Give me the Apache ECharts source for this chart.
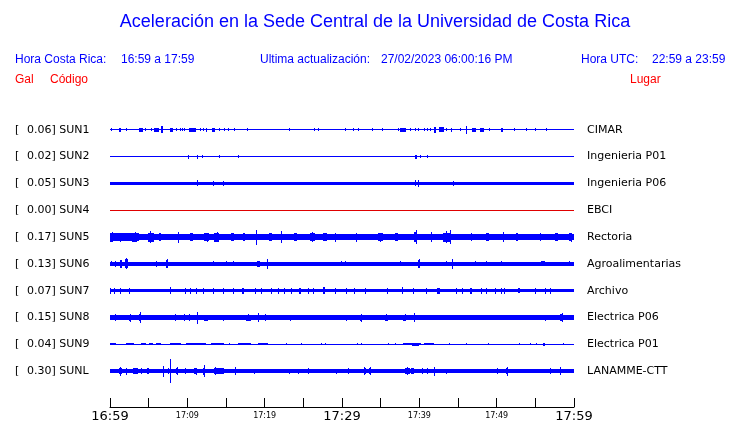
<!DOCTYPE html>
<html>
<head>
<meta charset="utf-8">
<script src="https://cdn.jsdelivr.net/npm/echarts@6/dist/echarts.min.js"></script>
<style>html,body{margin:0;padding:0;background:#fff}#c{width:740px;height:423px}</style>
</head>
<body>
<div id="c"></div>
<script>
// ---- data ----
const codes = ['SUN1','SUN2','SUN3','SUN4','SUN5','SUN6','SUN7','SUN8','SUN9','SUNL'];
const peakGal = [0.06,0.02,0.05,0.00,0.17,0.13,0.07,0.15,0.04,0.30];
const places = ['CIMAR','Ingenieria P01','Ingenieria P06','EBCI','Rectoria','Agroalimentarias','Archivo','Electrica P06','Electrica P01','LANAMME-CTT'];
// minutes after 16:59
const tickLabels = ['16:59','','17:09','','17:19','','17:29','','17:39','','17:49','','17:59'];
const majorLabels = ['16:59','17:29','17:59'];
// background noise half-amplitude of each trace (display units)
const baseAmp = [0.5,0.5,1.6,0.5,3,1.7,1.7,2.2,0.5,1.7];
// bursts: [start, end, halfAmp] or [time, halfAmp]
const sun1 = [[0.1,1.5],[1.2,1.45,2],[2.1,1.5],[3.8,4.3,2],[4.55,1.5],[5.35,1.5],[5.75,6.4,2],[6.6,6.85,3.5],[7.7,8.2,2],[8.55,1.5],[9.0,1.5],[9.3,1.5],[9.55,1.5],[10.2,11.15,2],[11.6,1.5],[12.0,1.5],[12.35,12.55,2],[13.15,13.6,2],[14.15,1.5],[14.8,1.5],[15.25,1.5],[16.0,1.5],[17.75,1.5],[23.2,1.5],[26.35,1.5],[26.95,1.5],[30.45,1.5],[31.4,1.5],[32.05,1.5],[33.85,1.5],[35.15,1.5],[37.2,1.5],[37.55,38.3,2],[38.75,1.5],[39.4,1.5],[39.8,1.5],[40.55,1.5],[40.95,1.5],[41.4,1.5],[41.85,42.1,3],[42.5,43.15,2.5],[43.5,1.5],[44.05,44.25,2],[45.2,1.5],[46.0,4],[46.8,47.35,2],[47.9,48.3,2],[49.0,1.5],[50.5,50.8,2],[52.2,1.5],[53.75,1.5],[54.9,1.5],[56.4,1.5]];
const sun2 = [[10.05,10.2,2],[11.2,11.4,2],[11.9,1.5],[14.1,1.5],[16.55,1.5],[39.45,39.7,2],[40.05,1.5],[40.95,1.5]];
const sun3 = [[11.25,3],[13.3,2.5],[14.6,2.5],[39.5,3],[39.8,3.5],[44.35,2.5]];
const sun4 = [];
const sun5 = [[0.0,3.8,4],[0.0,0.4,4.5],[0.2,5],[1.35,4.5],[2.9,3.55,4.5],[3.2,5],[4.85,5.75,4.5],[5.2,6],[6.3,6.6,4],[8.75,5.5],[10.3,10.7,4],[12.2,12.85,4],[12.5,4.5],[13.5,14.15,4.5],[13.8,5],[15.7,16.0,4],[17.2,17.5,4],[18.9,7.5],[20.6,21.0,4],[22.15,6],[23.8,24.2,4],[25.8,26.45,4],[26.1,5],[27.6,28.0,4],[29.05,4.5],[31.85,4.5],[34.6,35.25,4],[34.9,4.5],[36.8,37.2,4],[39.35,39.75,5],[39.55,7],[41.55,5],[43.0,44.1,4.5],[43.4,6],[44.0,7],[46.7,4],[48.6,49.0,4],[50.8,5],[52.5,52.8,4],[55.55,4],[57.6,57.9,4],[59.4,59.8,4],[59.6,4.5]];
const sun6 = [[0.15,2.5],[0.6,3],[1.35,1.55,4],[1.9,2.3,4.5],[2.1,5.5],[6.0,3],[7.25,7.55,4],[7.4,4.5],[13.3,2.5],[15.0,2.5],[15.9,2.5],[19.05,19.35,3],[20.35,5],[22.15,23.45,2.2],[26.85,29.05,2.2],[29.9,2.5],[30.45,2.5],[37.45,2.5],[39.8,40.0,4],[39.9,4.5],[43.4,2.5],[44.25,5],[47.15,2.5],[48.65,2.5],[50.6,2.5],[51.25,52.95,2.2],[53.8,54.65,2.2],[55.75,56.2,2.5],[59.4,2.5]];
const sun7 = [[0.05,2.8],[0.5,2.8],[1.25,2.8],[2.5,2.8],[7.7,3.5],[9.65,2.8],[10.3,10.5,2.8],[11.15,2.8],[12.0,2.8],[13.3,13.5,2.8],[14.6,2.8],[15.9,2.8],[17.05,17.3,3],[18.7,2.8],[19.55,2.8],[20.85,2.8],[21.7,21.9,2.8],[22.55,2.8],[23.45,2.8],[24.5,24.7,2.8],[25.6,2.8],[26.2,2.8],[27.5,27.75,3.5],[29.05,2.8],[30.55,2.8],[31.5,2.8],[33.0,2.8],[35.8,2.8],[37.8,3.5],[39.15,2.8],[40.8,2.8],[42.25,42.7,2.8],[44.7,2.8],[45.55,2.8],[46.5,46.8,2.8],[48.0,2.8],[48.65,2.8],[49.8,2.8],[50.5,2.8],[50.9,2.8],[52.8,53.05,2.5],[55.0,2.8],[56.2,2.8],[56.9,2.8]];
const sun8 = [[0.0,1.5,2.8],[0.6,3.5],[2.5,2.75,3],[2.6,4],[3.8,4.0,3.5],[3.9,5.5],[4.45,4.9,2.8],[6.8,8.75,2.8],[8.45,3.5],[9.1,10.55,2.8],[9.6,3.5],[10.2,3.5],[11.3,6],[12.2,12.65,3],[13.05,13.5,2.8],[14.6,3],[16.3,16.95,2.8],[17.6,18.25,3],[17.9,3.5],[19.1,4.5],[19.55,20.85,2.8],[20.1,3.5],[22.55,24.1,2.8],[23.3,3],[24.7,25.15,2.5],[26.2,2.5],[27.5,27.95,2.5],[29.65,31.6,2.8],[30.5,3],[32.35,32.6,3],[32.5,4],[33.3,34.6,2.8],[35.5,35.9,3],[35.7,3.5],[36.55,37.0,2.8],[37.85,38.3,3],[38.1,3.5],[38.5,40.9,2.8],[39.35,4.5],[43.45,43.9,2.8],[44.75,46.9,2.5],[48.65,49.1,2.5],[49.5,51.25,2.5],[52.95,54.25,2.5],[55.1,57.25,2.8],[56.2,3],[58.15,58.6,3.5],[58.4,4.5],[58.6,59.4,2.8]];
const sun9 = [[0.05,0.8,1],[2.1,3.15,1],[3.95,4.7,1],[5.1,5.5,1],[6.0,6.6,1],[7.7,9.2,1],[9.85,12.45,1],[13.1,14.8,1],[15.45,1],[16.5,18.25,1],[19.1,20.4,1],[22.8,1],[24.7,1],[27.3,1],[27.75,1],[31.9,1],[32.5,1],[35.9,1],[36.8,1],[37.85,40.25,1],[39.0,39.95,1.5],[40.65,41.95,1],[43.9,1],[46.05,1],[48.85,1],[52.95,1],[54.25,1],[55.1,1],[55.95,56.2,1.5],[58.55,1]];
const sunL = [[1.2,1.5,3],[1.35,4.5],[2.1,3.5],[2.95,3.6,3],[4.0,3],[4.8,5.1,3],[6.85,5.5],[7.45,3],[7.8,12],[8.55,8.85,3],[8.7,4],[9.65,9.85,3],[10.9,11.25,3],[11.1,3.5],[12.0,12.3,3.5],[12.15,6],[13.5,14.8,2.8],[13.55,4],[16.1,16.3,3],[16.2,4],[18.6,2.5],[23.2,2.5],[24.3,2.5],[25.65,3],[29.25,2.5],[30.75,3],[32.8,33.05,3],[32.9,4],[33.45,33.75,3],[33.6,4],[38.1,38.75,3],[38.4,4],[38.95,39.35,3],[40.35,3],[40.95,3],[41.95,4.5],[43.4,2.5],[50.0,3],[51.25,51.45,3],[51.35,4.5],[56.85,3],[58.15,4]];
const bursts = [sun1,sun2,sun3,sun4,sun5,sun6,sun7,sun8,sun9,sunL];

// ---- chart ----
const spacing = 27;
const BLUE = '#0000ff', RED = '#ff0000';
const traceItems = [];
codes.forEach((c, i) => {
  traceItems.push([0, 60, baseAmp[i], i]);
  bursts[i].forEach(b => {
    if (b.length === 2) traceItems.push([b[0], b[0], b[1], i]);
    else traceItems.push([b[0], b[1], b[2], i]);
  });
});

const chart = echarts.init(document.getElementById('c'), null, {renderer: 'canvas'});
const font = 'DejaVu Sans';
const hfont = 'Liberation Sans';

chart.setOption({
  animation: false,
  backgroundColor: '#fff',
  grid: {left: 110, right: 166, top: 103, bottom: 23},
  xAxis: {
    type: 'value', min: 0, max: 60, interval: 5, offset: 9, position: 'bottom',
    axisLine: {show: true, onZero: false, lineStyle: {color: '#000', width: 1}},
    axisTick: {show: true, inside: true, length: 9, lineStyle: {color: '#000'}},
    splitLine: {show: false},
    axisLabel: {
      interval: 0, margin: 3, hideOverlap: false, showMinLabel: true, showMaxLabel: true,
      formatter: v => {
        const t = tickLabels[Math.round(v / 5)] || '';
        if (!t) return '';
        return majorLabels.includes(t) ? '{big|' + t + '}' : '{small|' + t + '}';
      },
      rich: {
        big: {fontFamily: font, fontSize: 13, color: '#000', lineHeight: 14, verticalAlign: 'top'},
        small: {fontFamily: font, fontSize: 8, color: '#000', lineHeight: 14, verticalAlign: 'top', padding: [2, 0, 0, 0]}
      }
    }
  },
  yAxis: {type: 'value', min: 0, max: 297, inverse: true, show: false},
  series: [
    {
      type: 'custom',
      data: traceItems,
      renderItem: (params, api) => {
        const s = api.value(0), e = api.value(1), h = api.value(2), i = api.value(3);
        const base = spacing * (i + 1);
        const p1 = api.coord([s, base - h]);
        const p2 = api.coord([e, base + h]);
        const x0 = Math.round(p1[0]);
        const x1 = Math.max(x0 + 1, Math.round(p2[0]));
        const y0 = Math.round(Math.min(p1[1], p2[1]));
        const y1 = Math.max(y0 + 1, Math.round(Math.max(p1[1], p2[1])));
        return {type: 'rect', shape: {x: x0, y: y0, width: x1 - x0, height: y1 - y0},
                style: {fill: peakGal[i] === 0 ? '#e00000' : BLUE}};
      }
    },
    {
      type: 'custom',
      data: codes.map((c, i) => [0, i]),
      renderItem: (params, api) => {
        const i = api.value(1);
        const p = api.coord([0, spacing * (i + 1)]);
        const q = api.coord([60, spacing * (i + 1)]);
        return {type: 'group', children: [
          {type: 'text', x: 15, y: p[1], style: {text: '[', font: '11px "' + font + '"', fill: '#000', verticalAlign: 'middle'}},
          {type: 'text', x: 27, y: p[1], style: {text: peakGal[i].toFixed(2) + '] ' + codes[i], font: '11px "' + font + '"', fill: '#000', verticalAlign: 'middle'}},
          {type: 'text', x: q[0] + 13, y: p[1], style: {text: places[i], font: '11px "' + font + '"', fill: '#000', verticalAlign: 'middle'}}
        ]};
      }
    }
  ],
  graphic: [
    {type: 'text', x: 375, y: 22, style: {text: 'Aceleración en la Sede Central de la Universidad de Costa Rica', font: '18px "' + hfont + '"', fill: BLUE, align: 'center', verticalAlign: 'middle'}},
    {type: 'text', x: 15, y: 60, style: {text: 'Hora Costa Rica:', font: '12px "' + hfont + '"', fill: BLUE, verticalAlign: 'middle'}},
    {type: 'text', x: 121, y: 60, style: {text: '16:59 a 17:59', font: '12px "' + hfont + '"', fill: BLUE, verticalAlign: 'middle'}},
    {type: 'text', x: 260, y: 60, style: {text: 'Ultima actualización:', font: '12px "' + hfont + '"', fill: BLUE, verticalAlign: 'middle'}},
    {type: 'text', x: 381, y: 60, style: {text: '27/02/2023 06:00:16 PM', font: '12px "' + hfont + '"', fill: BLUE, verticalAlign: 'middle'}},
    {type: 'text', x: 581, y: 60, style: {text: 'Hora UTC:', font: '12px "' + hfont + '"', fill: BLUE, verticalAlign: 'middle'}},
    {type: 'text', x: 652, y: 60, style: {text: '22:59 a 23:59', font: '12px "' + hfont + '"', fill: BLUE, verticalAlign: 'middle'}},
    {type: 'text', x: 15, y: 80, style: {text: 'Gal', font: '12px "' + hfont + '"', fill: RED, verticalAlign: 'middle'}},
    {type: 'text', x: 50, y: 80, style: {text: 'Código', font: '12px "' + hfont + '"', fill: RED, verticalAlign: 'middle'}},
    {type: 'text', x: 630, y: 80, style: {text: 'Lugar', font: '12px "' + hfont + '"', fill: RED, verticalAlign: 'middle'}}
  ]
});
</script>
</body>
</html>
